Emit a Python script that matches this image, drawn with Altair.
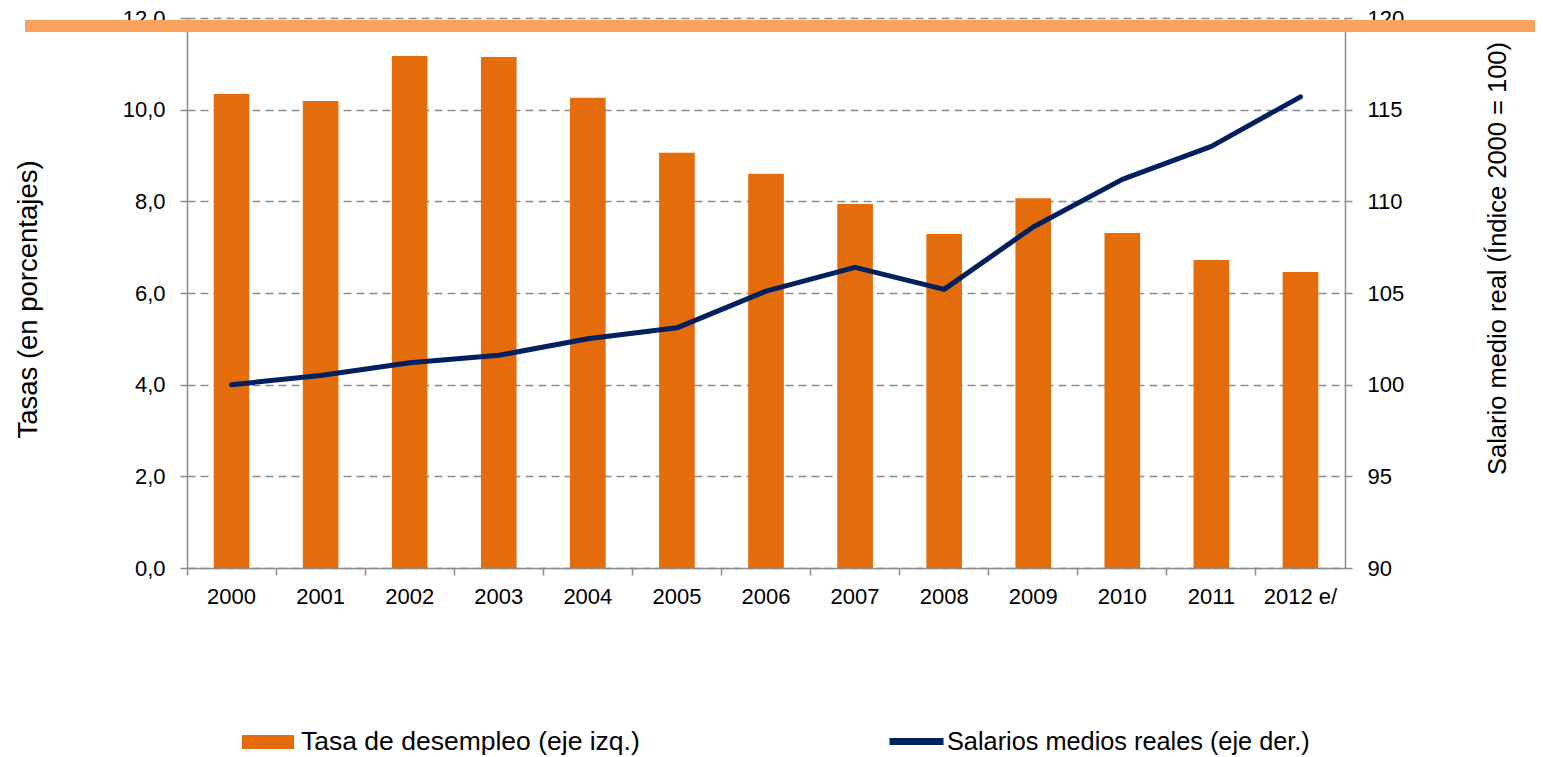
import altair as alt
import pandas as pd

years = ["2000", "2001", "2002", "2003", "2004", "2005", "2006",
         "2007", "2008", "2009", "2010", "2011", "2012 e/"]
desempleo = [10.34, 10.19, 11.17, 11.15, 10.26, 9.06, 8.60,
             7.94, 7.29, 8.07, 7.31, 6.72, 6.46]
salarios = [100.0, 100.5, 101.2, 101.6, 102.5, 103.1, 105.1,
            106.4, 105.2, 108.6, 111.2, 113.0, 115.7]

serie_bar = "Tasa de desempleo (eje izq.)"
serie_line = "Salarios medios reales (eje der.)"

df = pd.DataFrame({
    "year": years,
    "desempleo": desempleo,
    "salarios": salarios,
    "s1": [serie_bar] * len(years),
    "s2": [serie_line] * len(years),
})

FONT = "Liberation Sans"
GRAY = "#8c8c8c"
W, H = 1158, 550

x_enc = alt.X(
    "year:N", sort=years, title=None,
    scale=alt.Scale(paddingInner=0, paddingOuter=0),
    axis=alt.Axis(
        bandPosition=0,
        labelAngle=0, labelFontSize=22, labelFont=FONT, labelColor="black",
        labelPadding=11, tickSize=7, tickColor=GRAY, tickWidth=1.5,
        domainColor=GRAY, domainWidth=1.5, grid=False,
    ),
)

bars = alt.Chart(df).mark_bar(width=alt.RelativeBandSize(0.4)).encode(
    x=x_enc,
    y=alt.Y(
        "desempleo:Q",
        scale=alt.Scale(domain=[0, 12], nice=False),
        axis=alt.Axis(
            values=[0, 2, 4, 6, 8, 10, 12],
            labelExpr="replace(format(datum.value, '.1f'), '.', ',')",
            labelFontSize=22, labelFont=FONT, labelColor="black", labelPadding=15,
            tickSize=7, tickColor=GRAY, tickWidth=1.5,
            domainColor=GRAY, domainWidth=1.5,
            grid=True, gridColor=GRAY, gridDash=[8, 5], gridWidth=1.3,
            title="Tasas (en porcentajes)", titleFont=FONT, titleFontSize=27.5,
            titleFontWeight="normal", titleColor="black", titleAngle=-90,
            titleX=-159, titleY=281, titleAlign="center", titleBaseline="middle",
        ),
    ),
    fill=alt.Fill(
        "s1:N",
        scale=alt.Scale(domain=[serie_bar], range=["#E46C0A"]),
        legend=alt.Legend(
            title=None, orient="none", legendX=55, legendY=698, padding=0,
            symbolType="M-1,-0.27H1V0.27H-1Z", symbolSize=2704,
            symbolStrokeWidth=0, symbolOpacity=1,
            labelFontSize=26.5, labelFont=FONT, labelColor="black", labelOffset=7,
            labelLimit=600,
        ),
    ),
)

line = alt.Chart(df).mark_line(strokeWidth=5, strokeCap="round",
                               strokeJoin="round").encode(
    x=alt.X("year:N", sort=years),
    y=alt.Y(
        "salarios:Q",
        scale=alt.Scale(domain=[90, 120], nice=False, zero=False),
        axis=alt.Axis(
            orient="right", values=[90, 95, 100, 105, 110, 115, 120],
            labelFontSize=22, labelFont=FONT, labelColor="black", labelPadding=15,
            tickSize=7, tickColor=GRAY, tickWidth=1.5,
            domainColor=GRAY, domainWidth=1.5, grid=False,
            title="Salario medio real (Índice 2000 = 100)", titleFont=FONT,
            titleFontSize=25.5, titleFontWeight="normal", titleColor="black",
            titleAngle=-90, titleX=152, titleY=240, titleAlign="center",
            titleBaseline="middle",
        ),
    ),
    stroke=alt.Stroke(
        "s2:N",
        scale=alt.Scale(domain=[serie_line], range=["#002060"]),
        legend=alt.Legend(
            title=None, orient="none", legendX=699, legendY=693, padding=0,
            symbolType="stroke", symbolSize=2916, symbolStrokeWidth=7,
            labelFontSize=25.3, labelFont=FONT, labelColor="black", labelOffset=0,
            labelLimit=600,
        ),
    ),
)

band = alt.Chart(df).mark_rule(color="#F9A35C", strokeWidth=12).encode(
    x=alt.value(-162), x2=alt.value(1400), y=alt.value(8)
)

chart = alt.layer(bars, line, band).resolve_scale(
    y="independent"
).properties(
    width=W, height=H,
    autosize=alt.AutoSizeParams(type="none"),
    padding={"left": 179, "top": 10, "right": 190, "bottom": 189},
).configure_view(stroke=None)

chart.save("out.html", embed_options={"renderer": "svg", "actions": False})
